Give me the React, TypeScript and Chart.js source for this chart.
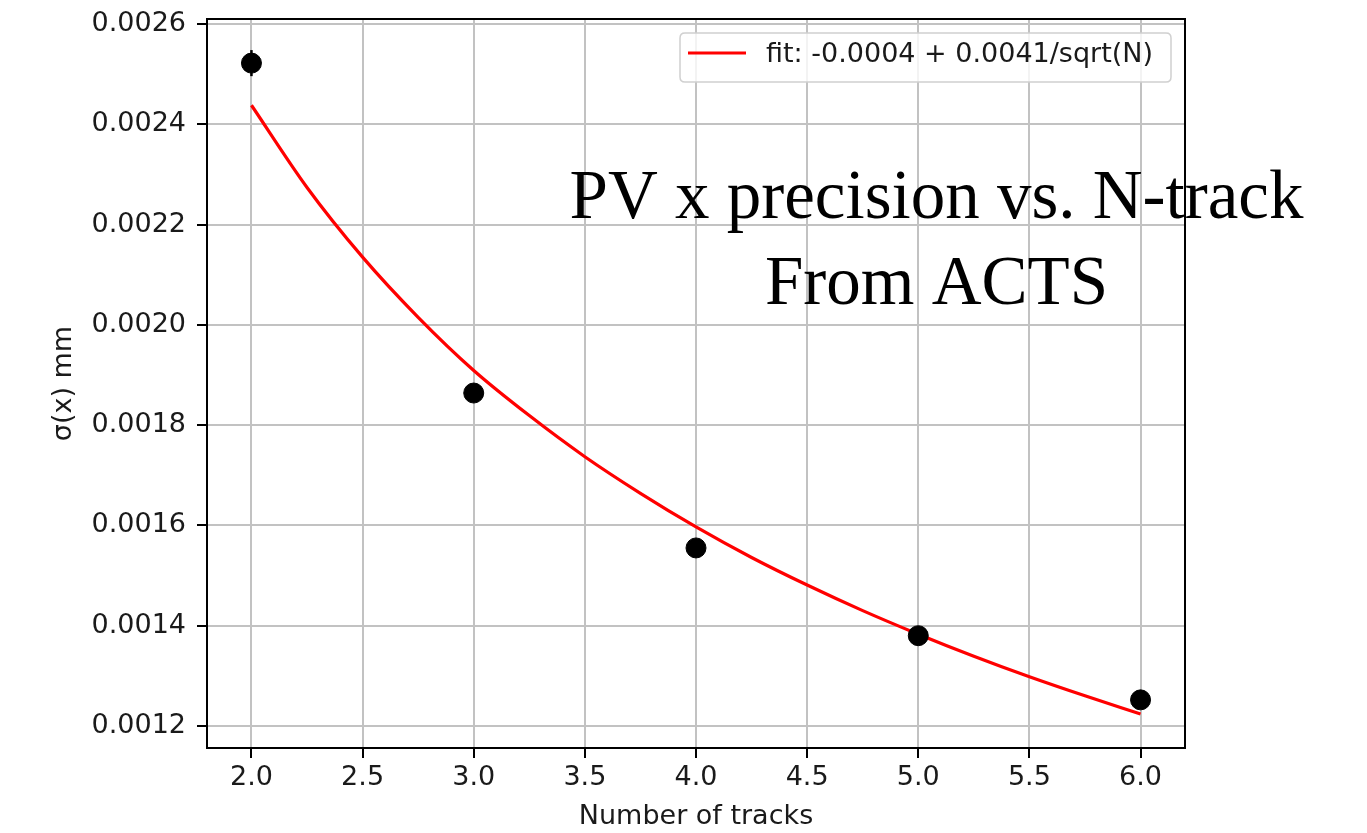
import React, { useEffect, useRef } from "react";
import { Chart, registerables } from "chart.js";

Chart.register(...registerables);

// ---- data ----
const nTracks = [2, 3, 4, 5, 6];
const sigmaX = [0.002522, 0.001864, 0.001555, 0.00138, 0.001252];
const sigmaErr = [0.000026, 0.000012, 0.00001, 0.000008, 0.000008];

const fitN = [2.0, 2.25, 2.5, 2.75, 3.0, 3.25, 3.5, 3.75, 4.0, 4.25, 4.5, 4.75, 5.0, 5.25, 5.5, 5.75, 6.0];
const fitSigma = [
  0.002438, 0.002274, 0.002135, 0.002015, 0.001909, 0.001819, 0.001737, 0.001664,
  0.001597, 0.001536, 0.001481, 0.00143, 0.001383, 0.001339, 0.001298, 0.00126, 0.001224,
];

const xTicks = [2.0, 2.5, 3.0, 3.5, 4.0, 4.5, 5.0, 5.5, 6.0];
const yTicks = [0.0012, 0.0014, 0.0016, 0.0018, 0.002, 0.0022, 0.0024, 0.0026];

const fitLabel = "fit: -0.0004 + 0.0041/sqrt(N)";
const overlayLines = ["PV x precision vs. N-track", "From ACTS"];
const xTitle = "Number of tracks";
const yTitle = "σ(x) mm";

const FONT = "'DejaVu Sans', sans-serif";
const FS = 27;

const errorBarPlugin = {
  id: "errorBars",
  beforeDatasetsDraw(chart: any) {
    const { ctx, scales } = chart;
    const xs = scales.x;
    const ys = scales.y;
    ctx.save();
    ctx.strokeStyle = "#000";
    ctx.lineWidth = 2.5;
    nTracks.forEach((n, i) => {
      const px = xs.getPixelForValue(n);
      const y1 = ys.getPixelForValue(sigmaX[i] + sigmaErr[i]);
      const y2 = ys.getPixelForValue(sigmaX[i] - sigmaErr[i]);
      ctx.beginPath();
      ctx.moveTo(px, y1);
      ctx.lineTo(px, y2);
      ctx.stroke();
    });
    ctx.restore();
  },
};

const decorPlugin = {
  id: "decor",
  afterDraw(chart: any) {
    const { ctx, chartArea } = chart;
    const { left, top, right, bottom } = chartArea;
    ctx.save();
    // frame
    ctx.strokeStyle = "#000";
    ctx.lineWidth = 2;
    ctx.strokeRect(left, top, right - left, bottom - top);

    // legend
    const lx = 680, ly = 33, lw = 491, lh = 49, r = 5;
    ctx.beginPath();
    ctx.moveTo(lx + r, ly);
    ctx.lineTo(lx + lw - r, ly);
    ctx.quadraticCurveTo(lx + lw, ly, lx + lw, ly + r);
    ctx.lineTo(lx + lw, ly + lh - r);
    ctx.quadraticCurveTo(lx + lw, ly + lh, lx + lw - r, ly + lh);
    ctx.lineTo(lx + r, ly + lh);
    ctx.quadraticCurveTo(lx, ly + lh, lx, ly + lh - r);
    ctx.lineTo(lx, ly + r);
    ctx.quadraticCurveTo(lx, ly, lx + r, ly);
    ctx.closePath();
    ctx.fillStyle = "rgba(255,255,255,0.8)";
    ctx.fill();
    ctx.strokeStyle = "#d0d0d0";
    ctx.lineWidth = 1.5;
    ctx.stroke();

    ctx.strokeStyle = "#ff0000";
    ctx.lineWidth = 3;
    ctx.beginPath();
    ctx.moveTo(688, 53);
    ctx.lineTo(746, 53);
    ctx.stroke();

    ctx.fillStyle = "#1a1a1a";
    ctx.font = `${FS}px ${FONT}`;
    ctx.textAlign = "left";
    ctx.textBaseline = "middle";
    ctx.fillText(fitLabel, 766, 55);

    // overlay title text
    ctx.fillStyle = "#000";
    ctx.font = "69px 'Liberation Serif', serif";
    ctx.textAlign = "center";
    ctx.textBaseline = "alphabetic";
    ctx.fillText(overlayLines[0], 936.5, 218);
    ctx.fillText(overlayLines[1], 936.5, 304);
    ctx.restore();
  },
};

export default function App() {
  const canvasRef = useRef<HTMLCanvasElement | null>(null);

  useEffect(() => {
    const canvas = canvasRef.current;
    if (!canvas) return;
    const chart = new Chart(canvas, {
      type: "scatter",
      data: {
        datasets: [
          {
            label: "data",
            data: nTracks.map((n, i) => ({ x: n, y: sigmaX[i] })),
            backgroundColor: "#000",
            borderColor: "#000",
            pointRadius: 10,
            pointHoverRadius: 10,
            showLine: false,
          },
          {
            label: fitLabel,
            data: fitN.map((n, i) => ({ x: n, y: fitSigma[i] })),
            showLine: true,
            borderColor: "#ff0000",
            backgroundColor: "#ff0000",
            borderWidth: 3.2,
            pointRadius: 0,
            tension: 0.4,
            cubicInterpolationMode: "monotone",
          },
        ],
      } as any,
      options: {
        responsive: false,
        animation: false,
        devicePixelRatio: 1,
        layout: { padding: { left: 48, top: 19, right: 182, bottom: 0 } },
        plugins: {
          legend: { display: false },
          tooltip: { enabled: false },
          title: { display: false },
        },
        scales: {
          x: {
            type: "linear",
            min: 1.8,
            max: 6.2,
            afterBuildTicks: (scale: any) => {
              scale.ticks = xTicks.map((v) => ({ value: v }));
            },
            afterFit: (scale: any) => {
              scale.height = 85;
              scale.paddingLeft = 0;
              scale.paddingRight = 0;
            },
            ticks: {
              color: "#1a1a1a",
              font: { family: FONT, size: FS },
              padding: 4,
              maxRotation: 0,
              autoSkip: false,
              callback: (v: any) => Number(v).toFixed(1),
            },
            grid: {
              color: "#c2c2c2",
              lineWidth: 2,
              tickColor: "#000",
              tickLength: 10,
              tickWidth: 2,
              drawTicks: true,
            },
            border: { display: true, color: "#000", width: 2 },
            title: {
              display: true,
              text: xTitle,
              color: "#1a1a1a",
              font: { family: FONT, size: FS },
              padding: 0,
            },
          },
          y: {
            type: "linear",
            min: 0.001156,
            max: 0.00261,
            afterBuildTicks: (scale: any) => {
              scale.ticks = yTicks.map((v) => ({ value: v }));
            },
            afterFit: (scale: any) => {
              scale.width = 159;
              scale.paddingTop = 0;
              scale.paddingBottom = 0;
            },
            ticks: {
              color: "#1a1a1a",
              font: { family: FONT, size: FS },
              padding: 11,
              autoSkip: false,
              callback: (v: any) => Number(v).toFixed(4),
            },
            grid: {
              color: "#c2c2c2",
              lineWidth: 2,
              tickColor: "#000",
              tickLength: 10,
              tickWidth: 2,
              drawTicks: true,
            },
            border: { display: true, color: "#000", width: 2 },
            title: {
              display: true,
              text: yTitle,
              color: "#1a1a1a",
              font: { family: FONT, size: FS },
              padding: 0,
            },
          },
        },
      } as any,
      plugins: [errorBarPlugin, decorPlugin],
    });
    return () => chart.destroy();
  }, []);

  return (
    <div style={{ position: "fixed", left: 0, top: 0, width: 1367, height: 833, background: "#fff" }}>
      <canvas ref={canvasRef} width={1367} height={833} style={{ display: "block", width: 1367, height: 833 }} />
    </div>
  );
}
